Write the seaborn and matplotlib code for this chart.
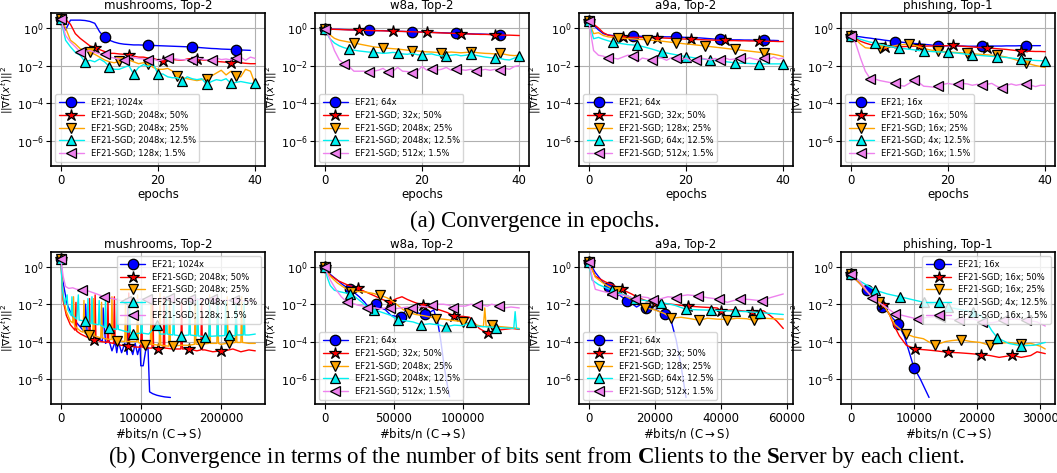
import matplotlib
matplotlib.use("Agg")
import matplotlib.pyplot as plt
import seaborn as sns
import numpy as np
from matplotlib.ticker import NullLocator

# ---------------- data (log10 of ||grad f||^2) ----------------
TITLES = ["mushrooms, Top-2", "w8a, Top-2", "a9a, Top-2", "phishing, Top-1"]
LABELS = [
    ["EF21; 1024x", "EF21-SGD; 2048x; 50%", "EF21-SGD; 2048x; 25%", "EF21-SGD; 2048x; 12.5%", "EF21-SGD; 128x; 1.5%"],
    ["EF21; 64x", "EF21-SGD; 32x; 50%", "EF21-SGD; 2048x; 25%", "EF21-SGD; 2048x; 12.5%", "EF21-SGD; 512x; 1.5%"],
    ["EF21; 64x", "EF21-SGD; 32x; 50%", "EF21-SGD; 128x; 25%", "EF21-SGD; 64x; 12.5%", "EF21-SGD; 512x; 1.5%"],
    ["EF21; 16x", "EF21-SGD; 16x; 50%", "EF21-SGD; 16x; 25%", "EF21-SGD; 4x; 12.5%", "EF21-SGD; 16x; 1.5%"],
]
EPOCHS = list(range(41))
EPOCH_TICKS = [0, 20, 40]
BITS_TICKS = [[0, 100000, 200000], [0, 50000, 100000], [0, 20000, 40000, 60000], [0, 10000, 20000, 30000]]
Y_TICKS = [1e0, 1e-2, 1e-4, 1e-6]

# --- epochs: mushrooms
MUSH_EP_EF21 = [0.5,-0.1,0.42,0.42,0.42,0.4,0.35,0.25,-0.2,-0.5,-0.65,-0.75,-0.82,-0.86,-0.88,-0.9,-0.9,-0.91,-0.92,-0.93,-0.94,-0.95,-0.96,-0.97,-0.98,-0.99,-1.0,-1.01,-1.03,-1.05,-1.07,-1.09,-1.1,-1.12,-1.13,-1.14,-1.15,-1.17,-1.18,-1.19]
MUSH_EP_50 = [0.5,0.45,0.2,-0.3,-0.55,-0.75,-0.95,-1.05,-1.15,-1.25,-1.35,-1.35,-1.38,-1.4,-1.42,-1.5,-1.55,-1.55,-1.6,-1.62,-1.7,-1.75,-1.72,-1.68,-1.7,-1.72,-1.65,-1.62,-1.65,-1.7,-1.72,-1.75,-1.78,-1.8,-1.82,-1.85,-1.8,-1.85,-1.88,-1.9,-1.9]
MUSH_EP_25 = [0.5,0.0,-0.65,-0.85,-1.1,-1.2,-1.3,-1.4,-1.55,-1.7,-1.8,-1.85,-1.78,-1.72,-1.7,-1.8,-1.9,-1.85,-1.9,-2.1,-2.2,-2.2,-2.15,-2.3,-2.55,-2.65,-2.7,-2.75,-2.8,-2.75,-2.7,-2.55,-2.4,-2.25,-2.5,-2.3,-2.55,-2.6,-2.2,-2.3,-3.0]
MUSH_EP_125 = [0.5,-0.65,-1.0,-1.3,-1.45,-1.8,-1.72,-1.8,-1.65,-1.8,-2.05,-2.2,-2.2,-2.1,-2.0,-2.45,-2.1,-1.95,-2.05,-1.9,-2.45,-2.45,-2.6,-2.65,-2.65,-2.8,-2.6,-2.7,-2.75,-2.7,-3.0,-2.85,-2.75,-2.8,-2.7,-2.95,-2.9,-2.85,-2.9,-2.95,-2.95]
MUSH_EP_15 = [0.5,-0.4,-0.75,-1.0,-1.28,-1.25,-1.2,-1.3,-1.37,-1.4,-1.55,-1.6,-1.65,-1.7,-1.5,-1.58,-1.62,-1.65,-1.7,-1.65,-1.75,-1.68,-1.6,-1.62,-1.66,-1.7,-1.68,-1.7,-1.6,-1.65,-1.7,-1.7,-1.6,-1.68,-1.65,-1.7,-1.6,-1.55,-1.72,-1.55,-1.62]
# --- epochs: w8a
W8A_EP_EF21 = [-0.05,-0.06,-0.07,-0.07,-0.08,-0.09,-0.1,-0.1,-0.11,-0.12,-0.13,-0.14,-0.14,-0.15,-0.16,-0.17,-0.18,-0.19,-0.2,-0.2,-0.21,-0.22,-0.23,-0.24,-0.25,-0.26,-0.27,-0.28,-0.29,-0.3,-0.31,-0.32,-0.32,-0.33,-0.34,-0.35,-0.36,-0.37]
W8A_EP_50 = [-0.05,-0.06,-0.07,-0.08,-0.09,-0.1,-0.1,-0.11,-0.12,-0.13,-0.14,-0.14,-0.15,-0.16,-0.17,-0.18,-0.18,-0.19,-0.2,-0.21,-0.22,-0.23,-0.24,-0.25,-0.26,-0.27,-0.28,-0.29,-0.3,-0.31,-0.32,-0.33,-0.34,-0.34,-0.35,-0.36,-0.37,-0.38,-0.38,-0.39,-0.4]
W8A_EP_25 = [-0.05,-0.35,-0.55,-0.65,-0.7,-0.75,-0.78,-0.85,-0.9,-0.95,-1.0,-1.03,-1.05,-1.08,-1.1,-1.12,-1.15,-1.18,-1.2,-1.22,-1.25,-1.27,-1.28,-1.3,-1.33,-1.3,-1.28,-1.3,-1.32,-1.3,-1.28,-1.3,-1.33,-1.35,-1.36,-1.38,-1.35,-1.4,-1.45,-1.47,-1.45]
W8A_EP_125 = [-0.05,-0.55,-0.8,-0.95,-1.05,-1.12,-1.18,-1.22,-1.25,-1.28,-1.3,-1.32,-1.35,-1.33,-1.3,-1.32,-1.38,-1.4,-1.35,-1.42,-1.45,-1.4,-1.38,-1.45,-1.48,-1.5,-1.45,-1.42,-1.48,-1.45,-1.4,-1.45,-1.5,-1.55,-1.58,-1.6,-1.62,-1.68,-1.7,-1.6,-1.5]
W8A_EP_15 = [-0.05,-0.5,-1.2,-1.7,-1.9,-2.05,-2.3,-2.3,-2.3,-2.32,-2.3,-2.25,-2.15,-2.35,-2.3,-2.1,-2.3,-2.32,-2.38,-2.3,-2.05,-2.25,-2.2,-2.25,-2.2,-2.1,-2.25,-2.2,-2.22,-2.25,-2.2,-2.28,-2.25,-2.2,-2.25,-2.2,-2.22,-2.15,-2.2,-2.05,-2.0]
# --- epochs: a9a
A9A_EP_EF21 = [0.37,0.15,-0.1,-0.3,-0.37,-0.4,-0.41,-0.42,-0.43,-0.43,-0.44,-0.44,-0.45,-0.45,-0.46,-0.46,-0.47,-0.47,-0.48,-0.49,-0.5,-0.51,-0.52,-0.53,-0.55,-0.57,-0.59,-0.6,-0.61,-0.62,-0.63,-0.63,-0.64,-0.64,-0.65,-0.65,-0.66,-0.66,-0.66,-0.67]
A9A_EP_50 = [0.37,0.2,0.0,-0.25,-0.38,-0.43,-0.46,-0.48,-0.49,-0.5,-0.5,-0.51,-0.51,-0.52,-0.52,-0.53,-0.54,-0.55,-0.56,-0.58,-0.59,-0.6,-0.61,-0.62,-0.63,-0.64,-0.65,-0.65,-0.66,-0.67,-0.67,-0.68,-0.68,-0.69,-0.69,-0.7,-0.7,-0.71,-0.71,-0.72,-0.72]
A9A_EP_25 = [0.37,-0.3,-0.25,-0.4,-0.47,-0.5,-0.52,-0.54,-0.56,-0.58,-0.6,-0.61,-0.63,-0.65,-0.67,-0.7,-0.73,-0.76,-0.79,-0.82,-0.85,-0.87,-0.9,-0.93,-0.96,-0.99,-1.02,-1.05,-1.08,-1.11,-1.14,-1.17,-1.2,-1.23,-1.26,-1.29,-1.32,-1.36,-1.4,-1.45,-1.52]
A9A_EP_125 = [0.37,-0.57,-0.5,-0.6,-0.68,-0.75,-0.8,-0.84,-0.88,-0.9,-0.93,-0.98,-1.05,-1.12,-1.2,-1.28,-1.33,-1.38,-1.43,-1.48,-1.52,-1.56,-1.6,-1.63,-1.67,-1.7,-1.73,-1.76,-1.79,-1.82,-1.85,-1.87,-1.88,-1.89,-1.9,-1.9,-1.91,-1.91,-1.91,-1.91,-1.91]
A9A_EP_15 = [0.37,-1.2,-1.45,-1.5,-1.6,-1.6,-1.65,-1.55,-1.45,-1.47,-1.8,-1.6,-1.65,-1.7,-1.55,-1.6,-1.72,-1.58,-1.62,-1.7,-1.6,-1.75,-1.72,-1.6,-1.65,-1.7,-1.62,-1.72,-1.6,-1.68,-1.65,-1.6,-1.7,-1.58,-1.65,-1.7,-1.6,-1.68,-1.55,-1.65,-1.6]
# --- epochs: phishing
PHI_EP_EF21 = [-0.4,-0.44,-0.47,-0.51,-0.54,-0.58,-0.61,-0.65,-0.68,-0.72,-0.74,-0.77,-0.79,-0.82,-0.84,-0.87,-0.89,-0.92,-0.94,-0.95,-0.95,-0.96,-0.96,-0.96,-0.97,-0.97,-0.97,-0.97,-0.97,-0.96,-0.96,-0.96,-0.95,-0.95,-0.95,-0.94,-0.94,-0.94,-0.94,-0.94]
PHI_EP_50 = [-0.4,-0.55,-0.7,-0.8,-0.88,-0.93,-0.97,-1.0,-1.0,-1.0,-1.0,-0.99,-0.98,-0.97,-0.97,-0.97,-0.96,-0.96,-0.95,-0.95,-0.94,-0.93,-0.95,-0.97,-0.99,-1.01,-1.03,-1.05,-1.06,-1.08,-1.1,-1.12,-1.14,-1.17,-1.2,-1.22,-1.24,-1.24,-1.25,-1.25,-1.26]
PHI_EP_25 = [-0.4,-0.6,-0.85,-1.05,-1.08,-1.08,-1.08,-1.05,-1.0,-0.95,-0.9,-0.88,-0.87,-0.92,-1.0,-1.08,-1.15,-1.2,-1.23,-1.25,-1.27,-1.29,-1.31,-1.33,-1.35,-1.37,-1.39,-1.41,-1.43,-1.45,-1.46,-1.5,-1.55,-1.62,-1.7,-1.78,-1.86,-1.93,-2.0,-2.05,-2.1]
PHI_EP_125 = [-0.4,-0.5,-0.6,-0.68,-0.75,-0.8,-0.87,-0.93,-0.98,-1.03,-1.08,-1.1,-1.13,-1.16,-1.2,-1.23,-1.24,-1.26,-1.27,-1.28,-1.3,-1.32,-1.34,-1.37,-1.4,-1.43,-1.45,-1.47,-1.49,-1.51,-1.53,-1.55,-1.57,-1.6,-1.63,-1.66,-1.69,-1.71,-1.73,-1.74,-1.75]
PHI_EP_15 = [-0.4,-0.8,-1.6,-2.3,-2.7,-2.72,-2.8,-2.85,-2.9,-2.95,-3.05,-3.1,-2.95,-2.78,-2.9,-3.1,-3.12,-3.15,-3.1,-3.0,-2.95,-3.0,-3.0,-2.95,-2.98,-3.05,-3.0,-3.05,-3.0,-2.95,-3.1,-3.2,-3.05,-2.98,-3.05,-3.0,-2.98,-3.05,-3.12,-3.05,-3.05]

EPOCH_SERIES = [
    [MUSH_EP_EF21, MUSH_EP_50, MUSH_EP_25, MUSH_EP_125, MUSH_EP_15],
    [W8A_EP_EF21, W8A_EP_50, W8A_EP_25, W8A_EP_125, W8A_EP_15],
    [A9A_EP_EF21, A9A_EP_50, A9A_EP_25, A9A_EP_125, A9A_EP_15],
    [PHI_EP_EF21, PHI_EP_50, PHI_EP_25, PHI_EP_125, PHI_EP_15],
]
EPOCH_MARKS = [9, 7, 6, 5, [0, 4, 9, 13, 18, 22, 27, 31, 36]]

# --- bits/n (thousands of bits, log10 value) pairs
MUSH_B_EF21 = [(0,0.45),(2,-0.6),(5,-1.3),(8,-2.0),(11,-2.3),(14,-2.6),(17,-2.8),(20,-3.0),(24,-3.2),(28,-3.4),(30,-3.45),(31,-2.0),(33,-3.5),(37,-3.6),(41,-3.7),(45,-3.8),(49,-3.9),(52,-4.0),(53,-2.2),(56,-4.1),(60,-3.9),(64,-4.5),(68,-4.0),(70,-4.6),(72,-4.0),(76,-4.6),(80,-4.1),(83,-4.7),(84,-2.1),(86,-4.2),(90,-4.7),(93,-4.1),(96,-4.7),(99,-4.2),(100,-5.3),(103,-5.3),(106,-4.5),(109,-4.3),(111,-6.7),(115,-6.8),(120,-6.88),(125,-6.93),(130,-6.97),(137,-7.0)]
MUSH_B_50 = [(0,0.45),(3,-1.8),(7,-2.6),(12,-3.1),(18,-3.4),(19,-1.9),(20,-3.45),(25,-3.6),(32,-3.75),(35,-3.8),(36,-1.7),(37,-3.8),(42,-3.9),(43,-1.5),(44,-3.9),(50,-4.0),(58,-4.05),(59,-1.8),(60,-4.05),(66,-4.1),(67,-1.6),(68,-4.1),(75,-4.2),(84,-4.25),(85,-1.4),(86,-4.25),(95,-4.3),(100,-4.3),(101,-1.8),(102,-4.3),(105,-4.35),(114,-4.35),(115,-1.7),(116,-4.35),(122,-4.4),(128,-4.35),(129,-1.6),(130,-4.35),(140,-4.4),(150,-4.4),(151,-1.9),(152,-4.4),(160,-4.4),(170,-4.5),(175,-4.45),(176,-1.8),(177,-4.45),(180,-4.45),(190,-4.55),(200,-4.5),(205,-4.5),(215,-4.4),(225,-4.55),(235,-4.45),(243,-4.5)]
MUSH_B_25 = [(0,0.45),(3,-1.6),(7,-2.4),(12,-2.9),(15,-3.0),(16,-1.6),(17,-3.1),(18,-3.2),(25,-3.45),(28,-3.5),(29,-1.8),(30,-3.55),(35,-3.65),(40,-3.7),(41,-1.7),(42,-3.7),(50,-3.8),(51,-1.9),(52,-3.8),(55,-3.85),(63,-3.9),(64,-1.6),(65,-3.9),(70,-3.95),(80,-4.0),(81,-1.7),(82,-4.0),(95,-4.0),(96,-1.5),(97,-4.05),(105,-4.2),(112,-4.15),(113,-1.6),(114,-4.15),(123,-4.2),(124,-1.4),(125,-4.2),(135,-4.25),(136,-1.7),(137,-4.25),(140,-4.25),(150,-4.2),(160,-4.2),(167,-4.15),(168,-1.7),(169,-4.15),(175,-4.15),(185,-4.1),(186,-1.5),(187,-4.1),(195,-4.1),(196,-1.8),(197,-4.1),(200,-4.15),(207,-4.1),(208,-1.6),(209,-4.1),(210,-4.1),(218,-4.05),(219,-1.7),(220,-4.05),(225,-4.05),(226,-1.6),(227,-4.05),(235,-4.1),(243,-4.1)]
MUSH_B_125 = [(0,0.45),(2,-1.2),(5,-2.0),(8,-1.5),(9,-2.3),(13,-2.6),(14,-1.6),(15,-2.6),(20,-2.8),(22,-1.5),(23,-2.85),(30,-2.9),(33,-3.0),(34,-1.7),(35,-3.0),(38,-3.05),(39,-1.6),(40,-3.05),(47,-3.1),(48,-1.8),(49,-3.1),(55,-3.25),(56,-1.7),(57,-3.25),(60,-3.3),(70,-3.35),(71,-1.7),(72,-3.35),(80,-3.45),(85,-3.5),(86,-1.9),(87,-3.5),(90,-3.6),(100,-3.55),(101,-1.7),(102,-3.55),(110,-3.6),(120,-3.1),(124,-3.6),(131,-3.6),(132,-1.6),(133,-3.6),(140,-3.65),(141,-1.8),(142,-3.65),(150,-3.7),(160,-3.65),(161,-1.8),(162,-3.65),(170,-3.7),(171,-1.7),(172,-3.7),(180,-3.75),(185,-3.72),(186,-1.9),(187,-3.72),(195,-3.7),(196,-1.6),(197,-3.7),(205,-3.68),(206,-1.8),(207,-3.68),(210,-3.65),(218,-3.7),(219,-1.7),(220,-3.65),(228,-3.65),(229,-1.9),(230,-3.65),(235,-3.65),(243,-3.6)]
MUSH_B_15 = [(0,0.45),(3,-0.5),(6,-1.05),(10,-1.15),(15,-1.12),(20,-1.2),(27,-1.22),(35,-1.3),(45,-1.45),(54,-1.6),(65,-1.7),(75,-1.8),(81,-1.85),(90,-1.8),(100,-1.72),(108,-1.7),(120,-1.72),(135,-1.65),(145,-1.72),(162,-1.72),(175,-1.76),(189,-1.74),(200,-1.8),(216,-1.78),(230,-1.82),(243,-1.8)]
# w8a
W8A_B_EF21 = [(0,-0.03),(4,-0.4),(9,-0.7),(13,-0.95),(18,-1.2),(21,-1.35),(25,-1.6),(29,-1.9),(32,-2.2),(35,-2.05),(37,-2.0),(41,-2.2),(44,-2.3),(48,-2.6),(52,-2.65),(55,-2.68),(58,-2.4),(61,-2.3),(65,-2.4),(69,-2.5),(73,-2.53),(77,-2.4),(79,-2.3),(82,-3.0),(84,-3.9),(86,-5.0),(88,-6.0),(90.5,-6.96)]
W8A_B_50 = [(0,-0.03),(4,-0.45),(10,-0.75),(16,-0.95),(24,-1.15),(30,-1.35),(36,-1.55),(42,-1.75),(47,-1.9),(52,-1.7),(56,-1.6),(60,-1.75),(65,-1.9),(71,-2.05),(77,-2.2),(83,-2.3),(89,-2.45),(94,-2.65),(100,-2.65),(105,-2.7),(108,-2.95),(112,-3.3),(118,-3.55),(124,-3.4),(130,-3.35),(136,-3.3),(141,-3.35)]
W8A_B_25 = [(0,-0.03),(4,-0.5),(9,-0.85),(14,-1.1),(19,-1.32),(25,-1.32),(30,-1.35),(35,-1.42),(40,-1.52),(45,-1.65),(48,-1.78),(52,-2.0),(57,-2.3),(61,-2.45),(66,-2.55),(72,-2.62),(76,-2.68),(81,-2.77),(86,-2.8),(91,-2.85),(96,-2.9),(100,-2.95),(106,-3.05),(112,-3.15),(115,-3.2),(116,-2.2),(117,-3.2),(121,-3.13),(127,-3.2),(134,-3.25),(141,-3.3)]
W8A_B_125 = [(0,-0.03),(2,-0.6),(4,-1.0),(7,-1.25),(11,-1.33),(14,-1.38),(18,-1.43),(22,-1.6),(27,-1.9),(31,-2.15),(36,-2.3),(42,-2.45),(48,-2.6),(53,-2.86),(58,-2.88),(64,-2.95),(70,-3.1),(76,-3.05),(82,-3.1),(88,-3.2),(94,-3.12),(100,-3.15),(106,-2.95),(107,-3.15),(114,-3.2),(120,-3.22),(124,-3.25),(132,-3.28),(137,-3.3),(138,-2.4),(139,-3.3),(141,-3.32)]
W8A_B_15 = [(0,-0.03),(4,-0.7),(8,-1.2),(12,-1.6),(16,-1.88),(20,-1.95),(24,-2.05),(28,-2.1),(31,-2.22),(34,-2.2),(37,-2.2),(40,-2.25),(44,-2.2),(47,-2.22),(50,-2.25),(55,-2.2),(60,-2.15),(63,-2.22),(66,-2.25),(70,-2.1),(74,-2.15),(78,-2.05),(82,-2.0),(86,-2.0),(90,-2.05),(93,-2.2),(97,-2.1),(102,-2.1),(106,-2.0),(110,-2.05),(114,-2.05),(118,-2.1),(121,-2.0),(126,-2.1),(130,-2.2),(135,-2.15),(141,-2.2)]
# a9a
A9A_B_EF21 = [(0,0.29),(2,-0.3),(4,-0.75),(6,-1.1),(8,-1.35),(10,-1.6),(11.5,-1.82),(13,-1.95),(14.5,-2.15),(16,-2.0),(17.5,-2.18),(19,-2.25),(20.5,-2.3),(22,-2.45),(23,-2.54),(24,-2.4),(25,-2.9),(26.5,-3.9),(28,-5.3),(29.5,-7.0)]
A9A_B_50 = [(0,0.29),(2,-0.5),(5,-0.8),(7,-0.95),(10,-1.2),(13,-1.45),(15,-1.65),(18,-1.85),(20,-1.93),(25,-2.0),(30,-2.1),(34,-2.15),(39,-2.2),(40,-2.35),(44,-2.3),(49.5,-2.42),(53,-2.35),(55,-2.6),(57,-2.9),(59,-3.3)]
A9A_B_25 = [(0,0.29),(2,-0.55),(5,-0.95),(8.5,-1.29),(11,-1.55),(14,-1.85),(17,-2.18),(20,-2.3),(23,-2.5),(25,-2.75),(28,-2.7),(31,-2.78),(33.5,-2.86),(36,-2.75),(39,-2.8),(42,-2.82),(45,-2.75),(48,-2.78),(50,-2.86),(53,-2.75),(56,-2.78),(59,-2.8)]
A9A_B_125 = [(0,0.29),(1,-0.7),(3,-0.95),(7,-1.25),(10,-1.45),(14,-1.73),(18,-1.82),(22,-1.91),(26,-2.05),(29.5,-2.27),(33,-2.3),(37,-2.32),(41,-2.35),(44.5,-2.37),(48,-2.4),(52,-2.45),(55.5,-2.5),(59,-2.55)]
A9A_B_15 = [(0,0.29),(1,-0.5),(2,-1.2),(4,-1.3),(7,-1.43),(10,-1.5),(12.5,-1.6),(14,-1.73),(16,-1.6),(18,-1.65),(19.5,-1.8),(22,-1.7),(24,-1.6),(26.5,-1.64),(28,-1.55),(30,-1.5),(33,-1.55),(36,-1.65),(39.5,-1.73),(42,-1.9),(44,-1.8),(46,-1.72),(49,-1.75),(52.5,-1.82),(55,-1.65),(57,-1.55),(59,-1.45)]
# phishing
PHI_B_EF21 = [(0,-0.4),(1.2,-0.8),(2.5,-1.25),(3.5,-1.6),(4.3,-1.9),(5.0,-2.16),(5.8,-2.4),(6.5,-2.7),(7.5,-3.04),(8.5,-3.74),(9.2,-4.5),(10.0,-5.4),(11.0,-6.0),(12.4,-7.0)]
PHI_B_50 = [(0,-0.4),(1.5,-0.9),(2.5,-1.3),(3.5,-1.6),(4.6,-1.9),(5.1,-2.05),(6.0,-2.45),(6.8,-3.1),(7.7,-3.7),(8.8,-4.2),(10.2,-4.4),(12,-4.45),(13.5,-4.5),(15.4,-4.58),(17,-4.6),(19,-4.65),(20.6,-4.7),(22,-4.75),(23.5,-4.85),(25.6,-4.74),(27,-4.85),(28.5,-4.75),(29.5,-4.55),(30.8,-4.65)]
PHI_B_25 = [(0,-0.4),(1.5,-0.9),(2.5,-1.3),(4.5,-1.9),(5.5,-2.2),(6.2,-2.6),(7,-3.1),(8.8,-3.6),(10,-3.75),(11.5,-3.85),(13.3,-4.2),(15,-4.0),(16,-3.95),(17.5,-3.9),(19,-4.0),(20.5,-4.05),(22,-4.2),(23.5,-4.1),(25,-4.05),(27,-4.15),(28.5,-4.1),(30,-4.25),(30.8,-4.4)]
PHI_B_125 = [(0,-0.4),(1.4,-0.75),(3.9,-1.25),(5.8,-1.45),(7.8,-1.6),(9.7,-1.75),(11.6,-1.9),(13.5,-2.02),(15.4,-2.16),(17.3,-2.28),(19.3,-2.42),(20.5,-2.6),(21.5,-2.95),(22.3,-3.4),(23.2,-3.8),(25,-4.1),(27,-4.23),(29,-4.2),(30.8,-4.05)]
PHI_B_15 = [(0,-0.4),(1.4,-0.75),(3.4,-1.67),(5.2,-2.07),(7.0,-2.5),(8.2,-2.6),(10.6,-2.8),(12.2,-2.7),(14.2,-2.68),(15.7,-2.78),(17.2,-2.86),(19.3,-2.78),(20.8,-2.95),(22.4,-3.0),(24.1,-2.86),(25.9,-2.78),(27.7,-2.86),(29.5,-2.95),(30.8,-3.17)]

BITS_SERIES = [
    [MUSH_B_EF21, MUSH_B_50, MUSH_B_25, MUSH_B_125, MUSH_B_15],
    [W8A_B_EF21, W8A_B_50, W8A_B_25, W8A_B_125, W8A_B_15],
    [A9A_B_EF21, A9A_B_50, A9A_B_25, A9A_B_125, A9A_B_15],
    [PHI_B_EF21, PHI_B_50, PHI_B_25, PHI_B_125, PHI_B_15],
]
# x positions (thousands) where the markers sit
BITS_MARKS = [
    [[0], [0, 42, 84, 122, 160, 200], [0, 35, 70, 105, 140, 175, 210], [0, 30, 60, 90, 120, 150, 180, 210], [0, 27, 54, 81, 108, 135, 162, 189, 216]],
    [[0, 18, 37, 55, 73], [0, 24, 47, 71, 94, 118], [0, 19, 40, 61, 81, 100, 121], [0, 18, 36, 53, 70, 88, 106, 124], [0, 16, 31, 47, 63, 78, 93, 110, 126]],
    [[0, 6, 11.5, 17.5, 23], [0, 10, 20, 30, 40, 49.5], [0, 8.5, 17, 25, 33.5, 42, 50], [0, 7, 14, 22, 29.5, 37, 44.5, 52], [0, 7, 14, 19.5, 26.5, 33, 39.5, 46, 52.5]],
    [[0, 2.5, 5.0, 7.5, 10.0], [0, 5.1, 10.2, 15.4, 20.6, 25.6], [0, 4.5, 8.8, 13.3, 17.5, 22, 27], [0, 3.9, 7.8, 11.6, 15.4, 19.3, 23.2, 27], [0, 3.4, 7.0, 10.6, 14.2, 17.2, 20.8, 24.1, 27.7]],
]
BITS_LEGEND_LOC = ["upper right", "lower left", "lower left", "upper right"]

# ---------------- style ----------------
COLORS = ["#0000ff", "#ff0000", "#ffa500", "#00f0f0", "#ee82ee"]
MARKERS = ["o", "*", "v", "^", "<"]
MSIZES = [7.5, 9, 7.5, 7.5, 7.5]

sns.set_style("whitegrid", rc={
    "axes.edgecolor": "black", "axes.linewidth": 1.2,
    "grid.color": "#b0b0b0", "grid.linewidth": 0.8,
    "xtick.bottom": True, "ytick.left": True,
    "xtick.major.size": 3, "ytick.major.size": 3,
    "xtick.color": "black", "ytick.color": "black",
    "axes.labelcolor": "black", "text.color": "black",
})
plt.rcParams["font.family"] = ["DejaVu Sans"]
plt.rcParams["mathtext.fontset"] = "custom"
plt.rcParams["mathtext.rm"] = "DejaVu Sans"
plt.rcParams["mathtext.it"] = "DejaVu Sans:italic"
plt.rcParams["mathtext.bf"] = "Liberation Serif:bold"

FS = 8.5
fig = plt.figure(figsize=(10.57, 4.73), dpi=100)
W, H = 1057.0, 473.0
LEFTS = [51, 315, 579, 841]
AW = 214


def style_axes(ax, title, xlabel, xticks, legend_loc):
    ax.set_yscale("log")
    ax.set_ylim(10 ** -7.35, 10 ** 0.8)
    ax.set_yticks(Y_TICKS)
    ax.yaxis.set_minor_locator(NullLocator())
    ax.set_xticks(xticks)
    ax.set_xticklabels([str(t) for t in xticks])
    ax.tick_params(axis="x", labelsize=FS, pad=2)
    ax.tick_params(axis="y", labelsize=8, pad=1.5)
    ax.set_title(title, fontsize=FS, pad=3)
    ax.set_xlabel(xlabel, fontsize=FS, labelpad=1)
    ax.set_ylabel(r"$||\nabla f(x^t)||^2$", fontsize=7.5)
    ax.yaxis.set_label_coords(-0.17, 0.5)
    for s in ax.spines.values():
        s.set_color("black")
        s.set_linewidth(1.2)
    ax.legend(loc=legend_loc, fontsize=6, framealpha=0.8, edgecolor="0.8",
              handlelength=3.0, borderpad=0.45, labelspacing=0.45, handletextpad=0.8)


for p in range(4):
    # top row: epochs
    ax = fig.add_axes([LEFTS[p] / W, 1 - 166 / H, AW / W, 153 / H])
    for s in range(5):
        ys = EPOCH_SERIES[p][s]
        sns.lineplot(x=EPOCHS[:len(ys)], y=10 ** np.array(ys), ax=ax, sort=False, estimator=None,
                     color=COLORS[s], marker=MARKERS[s], markersize=MSIZES[s],
                     markevery=EPOCH_MARKS[s], markeredgecolor="black", markeredgewidth=0.9,
                     linewidth=1.0, label=LABELS[p][s])
    style_axes(ax, TITLES[p], "epochs", EPOCH_TICKS, "lower left")

    # bottom row: bits
    ax = fig.add_axes([LEFTS[p] / W, 1 - 404 / H, AW / W, 152 / H])
    for s in range(5):
        pts = BITS_SERIES[p][s]
        xs = [q[0] for q in pts]
        ys = [q[1] for q in pts]
        mk = [xs.index(v) for v in BITS_MARKS[p][s]]
        sns.lineplot(x=np.array(xs) * 1000, y=10 ** np.array(ys), ax=ax, sort=False, estimator=None,
                     color=COLORS[s], marker=MARKERS[s], markersize=MSIZES[s],
                     markevery=mk, markeredgecolor="black", markeredgewidth=0.9,
                     linewidth=1.0, label=LABELS[p][s])
    style_axes(ax, TITLES[p], r"#bits/n (C$\rightarrow$S)", BITS_TICKS[p], BITS_LEGEND_LOC[p])

fig.text(535 / W, 1 - 221 / H, "(a) Convergence in epochs.", ha="center", va="center",
         fontsize=16.5, family="Liberation Serif")
fig.text(536 / W, 1 - 457 / H,
         r"(b) Convergence in terms of the number of bits sent from $\mathbf{C}$lients to the $\mathbf{S}$erver by each client.",
         ha="center", va="center", fontsize=16.5, family="Liberation Serif")

fig.savefig("out.png", dpi=100)
